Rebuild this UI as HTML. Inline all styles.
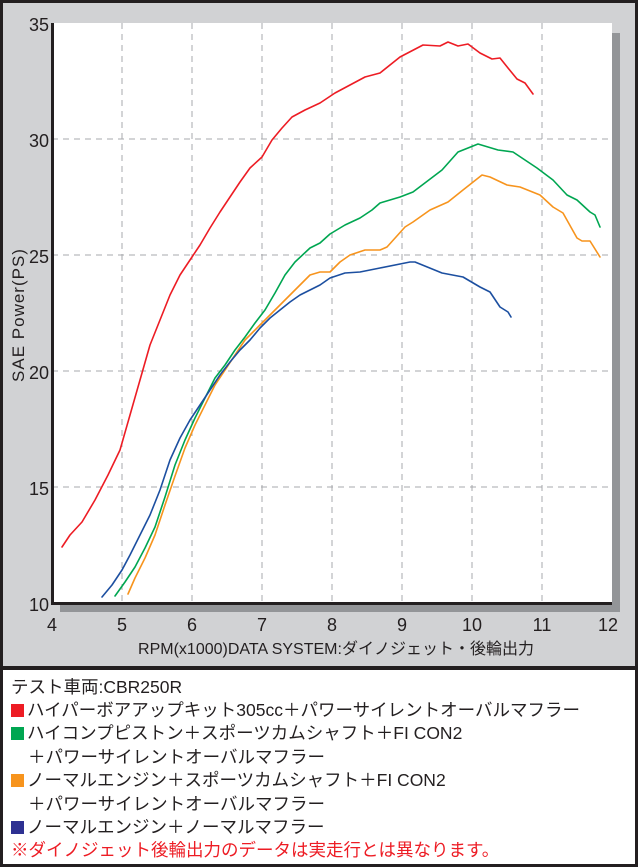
<!DOCTYPE html>
<html><head><meta charset="utf-8"><style>
body{margin:0;background:#fff;}
.w{position:relative;width:638px;height:867px;overflow:hidden;font-family:"Liberation Sans","Noto Sans CJK JP",sans-serif;}
.t{position:absolute;left:11px;font-size:17.5px;color:#231f20;white-space:nowrap;line-height:23px;}
.sq{display:inline-block;width:13px;height:13px;margin-right:3px;vertical-align:-1px;}
</style></head><body><div class="w">
<svg width="638" height="867" style="position:absolute;left:0;top:0">
<rect x="0" y="0" width="638" height="867" fill="#231f20"/>
<rect x="3" y="3" width="632" height="663" fill="#d1d2d4"/>
<rect x="3" y="670" width="632" height="194" fill="#fff"/>
<rect x="60" y="33" width="560" height="579" fill="#939598"/>
<rect x="52" y="23" width="560" height="580" fill="#fff"/>
<g stroke="#a7a9ac" stroke-width="1" stroke-dasharray="6,5" fill="none">
<line x1="122" y1="23" x2="122" y2="603"/><line x1="192" y1="23" x2="192" y2="603"/>
<line x1="262" y1="23" x2="262" y2="603"/><line x1="332" y1="23" x2="332" y2="603"/>
<line x1="402" y1="23" x2="402" y2="603"/><line x1="472" y1="23" x2="472" y2="603"/>
<line x1="542" y1="23" x2="542" y2="603"/>
<line x1="52" y1="139" x2="612" y2="139"/><line x1="52" y1="255" x2="612" y2="255"/>
<line x1="52" y1="371" x2="612" y2="371"/><line x1="52" y1="487" x2="612" y2="487"/>
</g>
<rect x="51" y="23" width="3" height="582" fill="#231f20"/>
<rect x="51" y="602" width="561" height="3" fill="#231f20"/>
<g fill="none" stroke-width="1.6" stroke-linejoin="round" stroke-linecap="round">
<polyline stroke="#ed1c24" points="62,547 70,535 82,522 95,500 108,475 120,450 130,415 140,380 150,345 160,320 170,295 180,275 190,260 200,245 210,228 220,212 230,197 240,182 250,168 262,157 272,140 282,128 292,117 305,110 320,103 335,93 350,85 365,77 380,73 400,57 423,45 440,46 448,42 458,46 468,44 480,53 492,59 500,58 508,68 517,79 525,83 533,94"/>
<polyline stroke="#00a651" points="115,596 125,582 135,567 145,548 155,527 165,497 175,465 185,440 195,418 205,398 215,378 225,365 235,350 245,337 255,323 265,310 275,293 285,275 295,262 310,248 320,243 330,234 345,225 360,218 372,210 380,203 400,197 413,192 442,170 458,152 478,144 498,150 513,152 537,168 553,180 567,195 577,200 590,212 595,215 600,227"/>
<polyline stroke="#f7941d" points="128,594 135,578 145,558 155,535 165,505 175,476 185,448 195,425 205,405 215,385 225,370 235,355 245,340 260,325 270,315 280,305 290,295 300,285 310,275 320,272 330,272 340,262 350,255 365,250 380,250 387,247 405,227 413,222 430,210 448,202 463,190 482,175 490,177 507,185 520,187 540,195 553,207 563,213 577,238 582,241 590,241 600,257"/>
<polyline stroke="#1c4fa0" points="102,597 112,585 122,570 130,555 140,535 150,515 160,490 170,460 180,438 190,420 200,405 210,390 220,375 230,362 240,350 250,340 260,328 270,318 280,310 290,302 300,295 310,290 320,285 330,278 345,273 360,272 380,268 410,262 415,262 442,273 463,277 480,287 490,292 500,307 508,312 511,317"/>
</g>
<g font-family="Liberation Sans, sans-serif" font-size="18" fill="#231f20" text-anchor="end">
<text x="49" y="31">35</text><text x="49" y="147">30</text><text x="49" y="263">25</text>
<text x="49" y="379">20</text><text x="49" y="495">15</text><text x="49" y="611">10</text>
</g>
<g font-family="Liberation Sans, sans-serif" font-size="18" fill="#231f20" text-anchor="middle">
<text x="52" y="631">4</text><text x="122" y="631">5</text><text x="192" y="631">6</text><text x="262" y="631">7</text>
<text x="332" y="631">8</text><text x="402" y="631">9</text><text x="472" y="631">10</text><text x="542" y="631">11</text><text x="608" y="631">12</text>
</g>
<text x="336" y="654" text-anchor="middle" font-family="Liberation Sans, Noto Sans CJK JP, sans-serif" font-size="16" fill="#231f20">RPM(x1000)DATA SYSTEM:ダイノジェット・後輪出力</text>
<text transform="translate(24,315) rotate(-90)" text-anchor="middle" font-family="Liberation Sans, sans-serif" font-size="17" letter-spacing="1" fill="#231f20">SAE Power(PS)</text>
</svg>
<div class="t" style="top:676px">テスト車両:CBR250R</div>
<div class="t" style="top:699px"><span class="sq" style="background:#ed1c24"></span>ハイパーボアアップキット305cc＋パワーサイレントオーバルマフラー</div>
<div class="t" style="top:722px"><span class="sq" style="background:#00a651"></span>ハイコンプピストン＋スポーツカムシャフト＋FI CON2</div>
<div class="t" style="top:746px;left:28px">＋パワーサイレントオーバルマフラー</div>
<div class="t" style="top:769px"><span class="sq" style="background:#f7941d"></span>ノーマルエンジン＋スポーツカムシャフト＋FI CON2</div>
<div class="t" style="top:793px;left:28px">＋パワーサイレントオーバルマフラー</div>
<div class="t" style="top:816px"><span class="sq" style="background:#2e3192"></span>ノーマルエンジン＋ノーマルマフラー</div>
<div class="t" style="top:839px;color:#ed1c24">※ダイノジェット後輪出力のデータは実走行とは異なります。</div>
</div></body></html>
